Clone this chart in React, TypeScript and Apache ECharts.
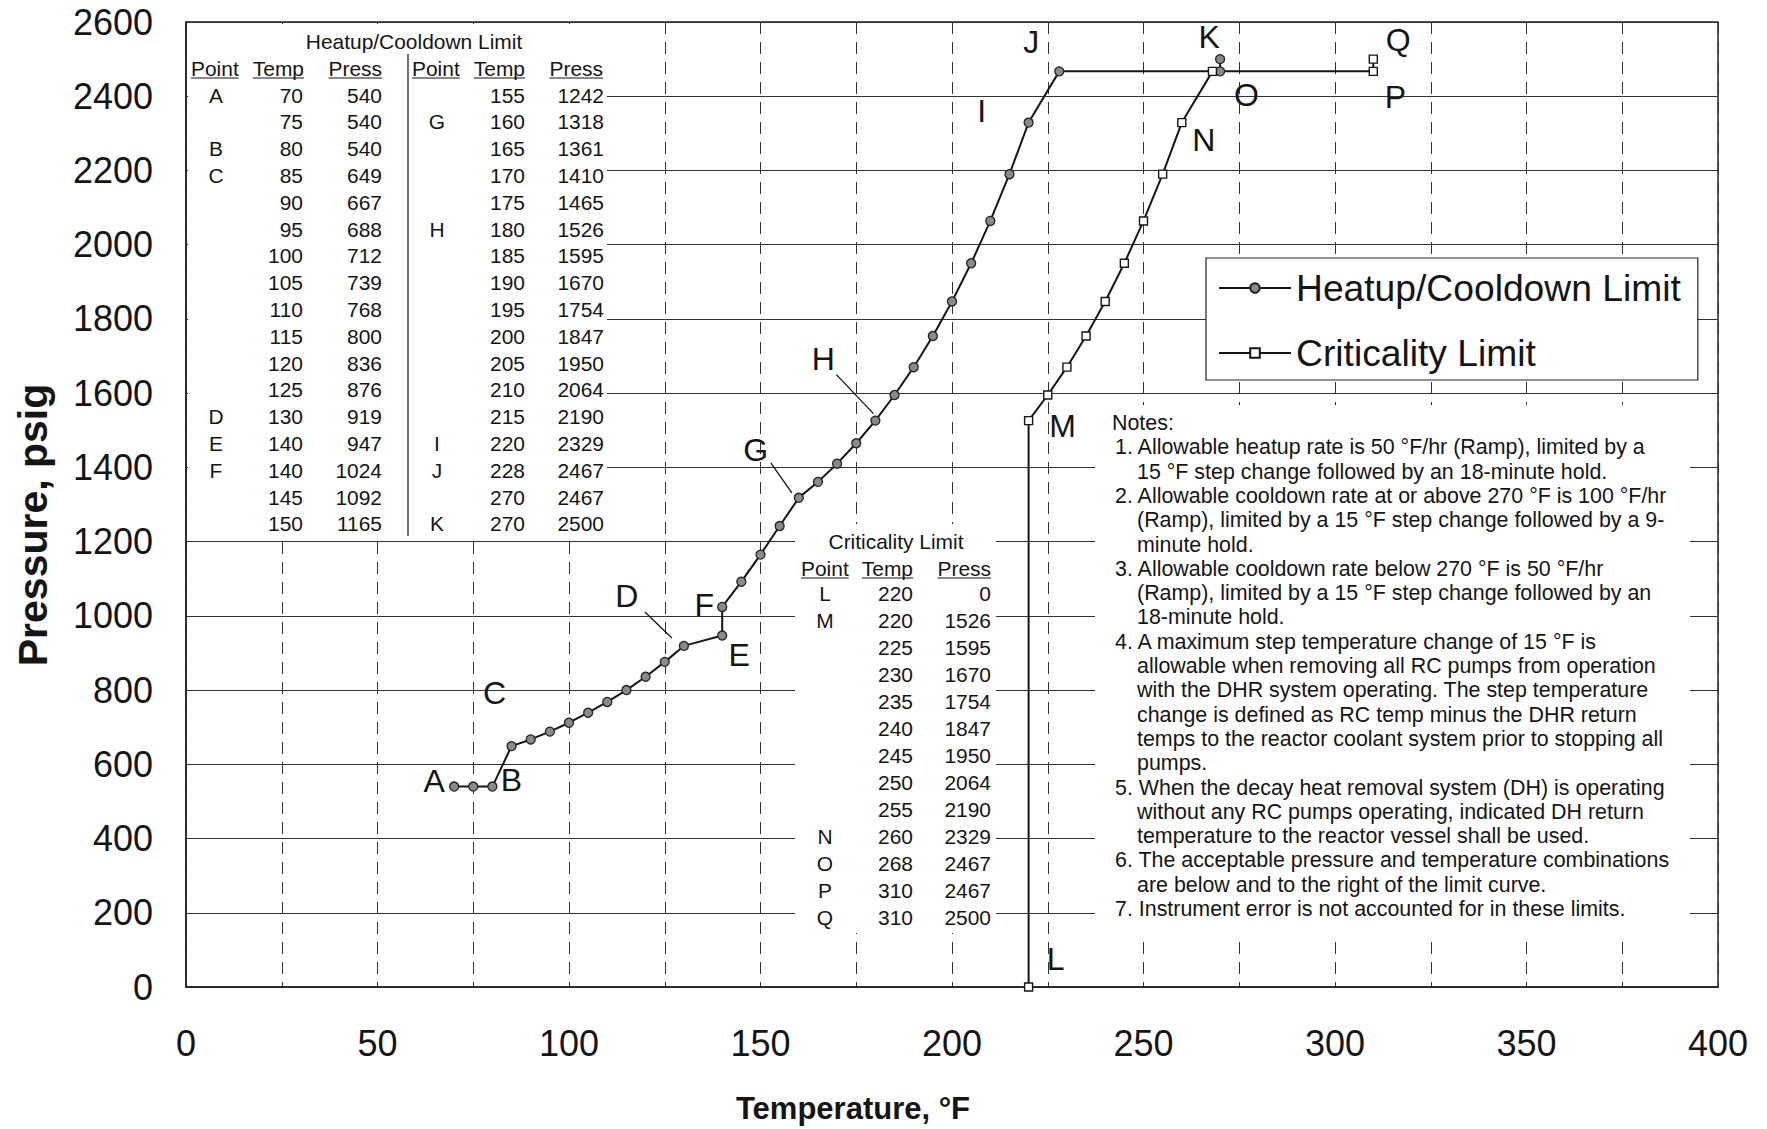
import React, { useEffect, useRef } from "react";
import * as echarts from "echarts";

// ---------------- data ----------------
const heatTemp = [70, 75, 80, 85, 90, 95, 100, 105, 110, 115, 120, 125, 130, 140, 140, 145, 150, 155, 160, 165, 170, 175, 180, 185, 190, 195, 200, 205, 210, 215, 220, 228, 270, 270];
const heatPress = [540, 540, 540, 649, 667, 688, 712, 739, 768, 800, 836, 876, 919, 947, 1024, 1092, 1165, 1242, 1318, 1361, 1410, 1465, 1526, 1595, 1670, 1754, 1847, 1950, 2064, 2190, 2329, 2467, 2467, 2500];
const heatPoint = ["A", "", "B", "C", "", "", "", "", "", "", "", "", "D", "E", "F", "", "", "", "G", "", "", "", "H", "", "", "", "", "", "", "", "I", "J", "", "K"];

const critTemp = [220, 220, 225, 230, 235, 240, 245, 250, 255, 260, 268, 310, 310];
const critPress = [0, 1526, 1595, 1670, 1754, 1847, 1950, 2064, 2190, 2329, 2467, 2467, 2500];
const critPoint = ["L", "M", "", "", "", "", "", "", "", "N", "O", "P", "Q"];

const seriesNames = ["Heatup/Cooldown Limit", "Criticality Limit"];
const xTitle = "Temperature, °F";
const yTitle = "Pressure, psig";

const noteLines = [
  "Notes:",
  "1. Allowable heatup rate is 50 °F/hr (Ramp), limited by a",
  "15 °F step change followed by an 18-minute hold.",
  "2. Allowable cooldown rate at or above 270 °F is 100 °F/hr",
  "(Ramp), limited by a 15 °F step change followed by a 9-",
  "minute hold.",
  "3. Allowable cooldown rate below 270 °F is 50 °F/hr",
  "(Ramp), limited by a 15 °F step change followed by an",
  "18-minute hold.",
  "4. A maximum step temperature change of 15 °F is",
  "allowable when removing all RC pumps from operation",
  "with the DHR system operating. The step temperature",
  "change is defined as RC temp minus the DHR return",
  "temps to the reactor coolant system prior to stopping all",
  "pumps.",
  "5. When the decay heat removal system (DH) is operating",
  "without any RC pumps operating, indicated DH return",
  "temperature to the reactor vessel shall be used.",
  "6. The acceptable pressure and temperature combinations",
  "are below and to the right of the limit curve.",
  "7. Instrument error is not accounted for in these limits.",
];

// ---------------- layout (pixel offsets of point letters from their points) ----------------
const letterOffsets: Record<string, [number, number]> = {
  A: [-20, -6], B: [19, -7], C: [-17, -53], D: [-57, -50], E: [17, 19], F: [-18, -2],
  G: [-43, -48], H: [-52, -62], I: [-47, -12], J: [-28, -29], K: [-11, -22],
  L: [27, -28], M: [34, 5], N: [22, 17], O: [34, 24], P: [22, 26], Q: [25, -19],
};
const leaderOffsets: Record<string, [number, number, number, number]> = {
  D: [-39, -34, -12, -8],
  G: [-28, -35, -7, -5],
  H: [-39, -46, -2, -7],
};

const NARROW = "'Liberation Sans Narrow', 'Arial Narrow', 'Liberation Sans', Arial, sans-serif";
const SANS = "'Liberation Sans', Arial, Helvetica, sans-serif";
const INK = "#151515";

let measureCtx: CanvasRenderingContext2D | null = null;
function textW(text: string, size: number, family: string, weight = "normal") {
  if (!measureCtx) measureCtx = document.createElement("canvas").getContext("2d");
  measureCtx!.font = `${weight} ${size}px ${family}`;
  return measureCtx!.measureText(text).width;
}
function fitSize(text: string, family: string, target: number, weight = "normal") {
  return (100 * target) / textW(text, 100, family, weight);
}

function txt(x: number, y: number, text: string, size: number, family: string, align = "left", extra: any = {}) {
  return {
    type: "text",
    x,
    y,
    z: 5,
    ...extra,
    style: {
      text,
      fontSize: size,
      fontFamily: family,
      fontWeight: extra.fontWeight || "normal",
      fill: INK,
      textAlign: align,
      textVerticalAlign: "middle",
      align,
      verticalAlign: "middle",
    },
  };
}
function ln(x1: number, y1: number, x2: number, y2: number, w = 1.2) {
  return { type: "line", z: 5, shape: { x1, y1, x2, y2 }, style: { stroke: INK, lineWidth: w } };
}
function whiteBox(x: number, y: number, w: number, h: number) {
  return { type: "rect", z: 1, shape: { x, y, width: w, height: h }, style: { fill: "#ffffff" } };
}

export default function App() {
  const ref = useRef<HTMLDivElement>(null);

  useEffect(() => {
    const el = ref.current!;
    const chart = echarts.init(el, null, { renderer: "svg" });

    const tableFs = (fitSize("Criticality Limit", NARROW, 138) + fitSize("Heatup/Cooldown Limit", NARROW, 212)) / 2;
    const notesFs = fitSize("6. The acceptable pressure and temperature combinations", NARROW, 555);
    const legendFs = fitSize("Heatup/Cooldown Limit", NARROW, 385);

    const option: any = {
      animation: false,
      backgroundColor: "#ffffff",
      grid: { left: 186, right: 49, top: 22, bottom: 142, show: true, borderColor: "#222", borderWidth: 1.5, backgroundColor: "transparent" },
      xAxis: {
        type: "value",
        min: 0,
        max: 400,
        interval: 25,
        axisLine: { show: true, lineStyle: { color: "#222", width: 1.5 } },
        axisTick: { show: false },
        axisLabel: {
          margin: 38,
          fontSize: 36,
          fontFamily: SANS,
          color: INK,
          formatter: (v: number) => (v % 50 === 0 ? String(v) : ""),
        },
        splitLine: { show: true, lineStyle: { color: "#333", width: 1, type: [12, 8] } },
      },
      yAxis: {
        type: "value",
        min: 0,
        max: 2600,
        interval: 200,
        axisLine: { show: true, lineStyle: { color: "#222", width: 1.5 } },
        axisTick: { show: false },
        axisLabel: { margin: 33, fontSize: 36, fontFamily: SANS, color: INK, formatter: (v: number) => String(v) },
        splitLine: { show: true, lineStyle: { color: "#333", width: 1.1 } },
      },
      legend: {
        orient: "vertical",
        left: 1206,
        top: 258,
        padding: [10, 17, 7, 12],
        itemGap: 25,
        itemWidth: 72,
        itemHeight: 12,
        backgroundColor: "#ffffff",
        borderColor: "#222",
        borderWidth: 1.2,
        borderRadius: 0,
        textStyle: { fontSize: legendFs, fontFamily: NARROW, color: INK, lineHeight: 40 },
        data: seriesNames,
      },
      series: [
        {
          name: seriesNames[0],
          type: "line",
          z: 3,
          data: heatTemp.map((t, i) => [t, heatPress[i]]),
          symbol: "circle",
          symbolSize: 9,
          itemStyle: { color: "#8a8a8a", borderColor: "#222", borderWidth: 1.3 },
          lineStyle: { color: INK, width: 2 },
        },
        {
          name: seriesNames[1],
          type: "line",
          z: 3,
          data: critTemp.map((t, i) => [t, critPress[i]]),
          symbol: "rect",
          symbolSize: 8,
          itemStyle: { color: "#ffffff", borderColor: INK, borderWidth: 1.4 },
          lineStyle: { color: INK, width: 2 },
        },
      ],
    };
    chart.setOption(option);

    const toPx = (t: number, p: number) => chart.convertToPixel({ gridIndex: 0 }, [t, p]) as number[];
    const g: any[] = [];

    // occluding boxes for the tables and notes
    g.push(whiteBox(188, 24, 419, 513));
    g.push(whiteBox(795, 524, 201, 409));
    g.push(whiteBox(1095, 405, 595, 532));

    // ---- Heatup/Cooldown table ----
    g.push(txt(414, 41, "Heatup/Cooldown Limit", tableFs, NARROW, "center"));
    const hdr = (x: number, text: string, align: string) => {
      g.push(txt(x, 68, text, tableFs, NARROW, align));
      const w = textW(text, tableFs, NARROW);
      const x0 = align === "left" ? x : align === "right" ? x - w : x - w / 2;
      g.push(ln(x0, 78, x0 + w, 78, 1));
    };
    hdr(191, "Point", "left");
    hdr(304, "Temp", "right");
    hdr(382, "Press", "right");
    hdr(412, "Point", "left");
    hdr(525, "Temp", "right");
    hdr(603, "Press", "right");
    g.push(ln(408, 54, 408, 536, 1.2));
    const half = Math.ceil(heatTemp.length / 2);
    for (let i = 0; i < half; i++) {
      const y = 95 + i * 26.8;
      g.push(txt(216, y, heatPoint[i], tableFs, NARROW, "center"));
      g.push(txt(303, y, String(heatTemp[i]), tableFs, NARROW, "right"));
      g.push(txt(382, y, String(heatPress[i]), tableFs, NARROW, "right"));
      const j = i + half;
      if (j < heatTemp.length) {
        g.push(txt(437, y, heatPoint[j], tableFs, NARROW, "center"));
        g.push(txt(525, y, String(heatTemp[j]), tableFs, NARROW, "right"));
        g.push(txt(604, y, String(heatPress[j]), tableFs, NARROW, "right"));
      }
    }

    // ---- Criticality table ----
    g.push(txt(896, 541, "Criticality Limit", tableFs, NARROW, "center"));
    const hdr2 = (x: number, text: string, align: string) => {
      g.push(txt(x, 568, text, tableFs, NARROW, align));
      const w = textW(text, tableFs, NARROW);
      const x0 = align === "left" ? x : x - w;
      g.push(ln(x0, 578, x0 + w, 578, 1));
    };
    hdr2(801, "Point", "left");
    hdr2(913, "Temp", "right");
    hdr2(991, "Press", "right");
    for (let i = 0; i < critTemp.length; i++) {
      const y = 593 + i * 27.04;
      g.push(txt(825, y, critPoint[i], tableFs, NARROW, "center"));
      g.push(txt(913, y, String(critTemp[i]), tableFs, NARROW, "right"));
      g.push(txt(991, y, String(critPress[i]), tableFs, NARROW, "right"));
    }

    // ---- Notes ----
    noteLines.forEach((line, k) => {
      const x = k === 0 ? 1112 : /^\d\./.test(line) ? 1115 : 1137;
      g.push(txt(x, 423 + k * 24.3, line, notesFs, NARROW, "left"));
    });

    // ---- point letters and leader lines ----
    const addLetters = (temps: number[], press: number[], pts: string[]) => {
      pts.forEach((name, i) => {
        if (!name) return;
        const [px, py] = toPx(temps[i], press[i]);
        const off = letterOffsets[name];
        g.push(txt(px + off[0], py + off[1], name, 32, SANS, "center"));
        const lo = leaderOffsets[name];
        if (lo) g.push(ln(px + lo[0], py + lo[1], px + lo[2], py + lo[3], 1.3));
      });
    };
    addLetters(heatTemp, heatPress, heatPoint);
    addLetters(critTemp, critPress, critPoint);

    // ---- axis titles ----
    g.push(txt(853, 1108, xTitle, 31, SANS, "center", { fontWeight: "bold" }));
    g.push(txt(33, 525, yTitle, 41, SANS, "center", { fontWeight: "bold", rotation: Math.PI / 2 }));

    chart.setOption({ graphic: { elements: g } });

    return () => chart.dispose();
  }, []);

  return (
    <div
      ref={ref}
      style={{ position: "absolute", left: 0, top: 0, width: 1767, height: 1129, background: "#fff" }}
    />
  );
}
